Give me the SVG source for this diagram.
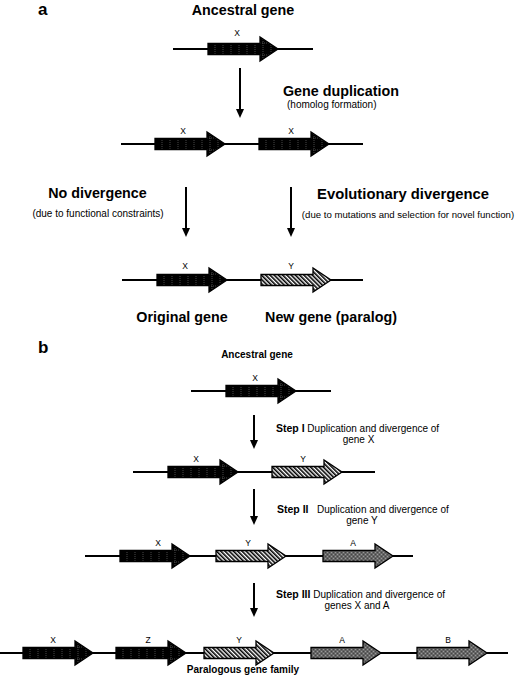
<svg xmlns="http://www.w3.org/2000/svg" xmlns:xlink="http://www.w3.org/1999/xlink" width="519" height="683" viewBox="0 0 519 683">
<style>
text{font-family:"Liberation Sans",Arial,Helvetica,sans-serif;fill:#000}
.panel{font-size:17px;font-weight:bold}
.h1{font-size:14.3px;font-weight:bold;text-anchor:middle}
.sub{font-size:10px;text-anchor:middle}
.h2{font-size:10px;font-weight:bold;text-anchor:middle}
.step{font-size:10px}
.stepb{font-size:10.5px;font-weight:bold}
.lbl{font-size:8.5px;text-anchor:middle}
.dna{stroke:#000;stroke-width:2;fill:none}
.conn{stroke:#000;stroke-width:2;fill:none;marker-end:url(#ah)}
.gene{stroke:#000;stroke-width:1.3}
</style>
<defs>
<marker id="ah" markerUnits="userSpaceOnUse" markerWidth="9" markerHeight="8" viewBox="0 0 9 8" refX="5" refY="4" orient="auto">
<path d="M0,0 L9,4 L0,8 Z" fill="#000"/>
</marker>
<pattern id="pBlack" patternUnits="userSpaceOnUse" width="8" height="12">
<rect width="8" height="12" fill="#000"/>
<path d="M0,6 H8" stroke="#777" stroke-width="0.6" stroke-dasharray="1,1"/>
<path d="M7,0 V12" stroke="#777" stroke-width="0.6" stroke-dasharray="1,1"/>
</pattern>
<pattern id="pHatch" patternUnits="userSpaceOnUse" width="3" height="3" patternTransform="rotate(-45)">
<rect width="3" height="3" fill="#fff"/>
<rect width="1.6" height="3" fill="#000"/>
</pattern>
<pattern id="pGray" patternUnits="userSpaceOnUse" width="4" height="4">
<rect width="4" height="4" fill="#666"/>
<rect width="1" height="1" fill="#999"/>
<rect x="2" y="2" width="1" height="1" fill="#999"/>
<rect x="2" y="0" width="1" height="1" fill="#444"/>
<rect x="0" y="2" width="1" height="1" fill="#444"/>
</pattern>
<path id="g" d="M0,-5.5 H52 V-12 L70,0 L52,12 V5.5 H0 Z"/>
</defs>

<g id="connectors">
<line class="conn" x1="240" y1="68" x2="240" y2="114"/>
<line class="conn" x1="186" y1="187" x2="186" y2="233"/>
<line class="conn" x1="291" y1="187" x2="291" y2="233"/>
<line class="conn" x1="254" y1="415" x2="254" y2="445"/>
<line class="conn" x1="254" y1="489" x2="254" y2="521"/>
<line class="conn" x1="254" y1="583" x2="254" y2="613"/>
</g>

<g id="labels-a">
<text class="panel" x="38" y="15">a</text>
<text class="h1" x="243" y="15">Ancestral gene</text>
<text x="283" y="96" style="font-size:14.3px;font-weight:bold">Gene duplication</text>
<text x="287" y="108" style="font-size:10px">(homolog formation)</text>
<text class="h1" x="97.5" y="198">No divergence</text>
<text class="sub" x="98" y="217">(due to functional constraints)</text>
<text class="h1" x="403" y="199" style="font-size:14.8px">Evolutionary divergence</text>
<text class="sub" x="408" y="218" style="font-size:9.6px">(due to mutations and selection for novel function)</text>
<text class="h1" x="182" y="322">Original gene</text>
<text class="h1" x="331" y="322">New gene (paralog)</text>
</g>

<g id="row-a1">
<line class="dna" x1="173" y1="49" x2="313" y2="49"/>
<use href="#g" class="gene" x="208" y="49" fill="url(#pBlack)"/>
<text class="lbl" x="237" y="36">X</text>
</g>
<g id="row-a2">
<line class="dna" x1="121" y1="144" x2="363" y2="144"/>
<use href="#g" class="gene" x="155" y="144" fill="url(#pBlack)"/>
<use href="#g" class="gene" x="259" y="144" fill="url(#pBlack)"/>
<text class="lbl" x="183" y="134">X</text>
<text class="lbl" x="291" y="134">X</text>
</g>
<g id="row-a3">
<line class="dna" x1="122" y1="280" x2="363" y2="280"/>
<use href="#g" class="gene" x="157" y="280" fill="url(#pBlack)"/>
<use href="#g" class="gene" x="261" y="280" fill="url(#pHatch)"/>
<text class="lbl" x="185" y="269">X</text>
<text class="lbl" x="291" y="269">Y</text>
</g>

<g id="labels-b">
<text class="panel" x="38" y="353">b</text>
<text class="h2" x="257" y="358">Ancestral gene</text>
<text x="276" y="432"><tspan class="stepb">Step I</tspan><tspan class="step"> Duplication and divergence of</tspan></text>
<text class="sub" x="358.5" y="443">gene X</text>
<text x="277" y="513"><tspan class="stepb">Step II</tspan><tspan class="step" x="317">Duplication and divergence of</tspan></text>
<text class="sub" x="362" y="524">gene Y</text>
<text x="276" y="598"><tspan class="stepb">Step III</tspan><tspan class="step"> Duplication and divergence of</tspan></text>
<text class="sub" x="357" y="609">genes X and A</text>
<text class="h2" x="243" y="673">Paralogous gene family</text>
</g>

<g id="row-b1">
<line class="dna" x1="191" y1="391" x2="331" y2="391"/>
<use href="#g" class="gene" x="226" y="391" fill="url(#pBlack)"/>
<text class="lbl" x="255" y="381">X</text>
</g>
<g id="row-b2">
<line class="dna" x1="133" y1="472" x2="375" y2="472"/>
<use href="#g" class="gene" x="168" y="472" fill="url(#pBlack)"/>
<use href="#g" class="gene" x="272" y="472" fill="url(#pHatch)"/>
<text class="lbl" x="196" y="462">X</text>
<text class="lbl" x="303" y="462">Y</text>
</g>
<g id="row-b3">
<line class="dna" x1="85" y1="556" x2="413" y2="556"/>
<use href="#g" class="gene" x="120" y="556" fill="url(#pBlack)"/>
<use href="#g" class="gene" x="216" y="556" fill="url(#pHatch)"/>
<use href="#g" class="gene" x="323" y="556" fill="url(#pGray)"/>
<text class="lbl" x="158" y="546">X</text>
<text class="lbl" x="248" y="546">Y</text>
<text class="lbl" x="353" y="546">A</text>
</g>
<g id="row-b4">
<line class="dna" x1="0" y1="653" x2="508" y2="653"/>
<use href="#g" class="gene" x="23" y="653" fill="url(#pBlack)"/>
<use href="#g" class="gene" x="116" y="653" fill="url(#pBlack)"/>
<use href="#g" class="gene" x="204" y="653" fill="url(#pHatch)"/>
<use href="#g" class="gene" x="311" y="653" fill="url(#pGray)"/>
<use href="#g" class="gene" x="417" y="653" fill="url(#pGray)"/>
<text class="lbl" x="53" y="643">X</text>
<text class="lbl" x="148" y="643">Z</text>
<text class="lbl" x="239" y="643">Y</text>
<text class="lbl" x="342" y="643">A</text>
<text class="lbl" x="448" y="643">B</text>
</g>
</svg>
